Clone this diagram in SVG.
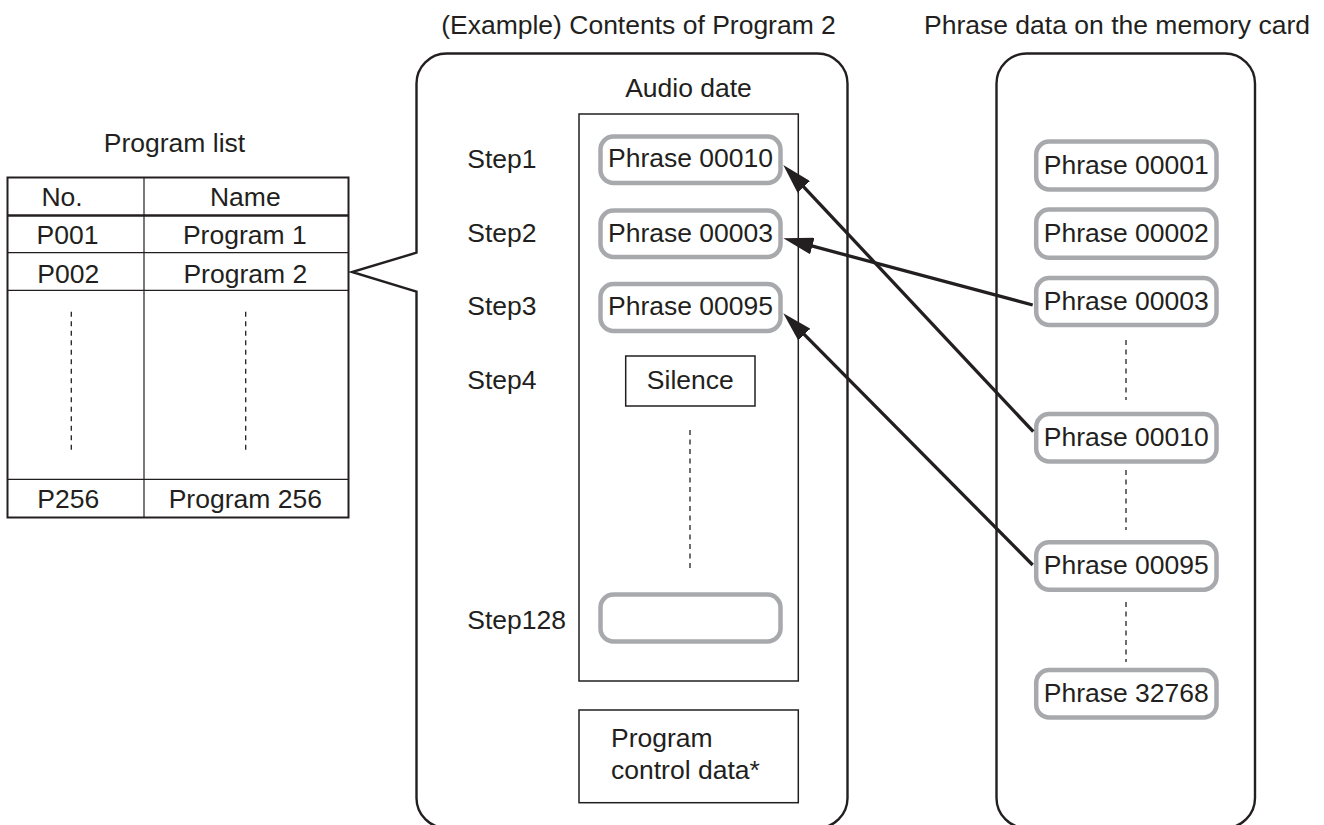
<svg xmlns="http://www.w3.org/2000/svg" width="1324" height="825" viewBox="0 0 1324 825">
<defs>
<style>
text{font-family:"Liberation Sans",Arial,Helvetica,sans-serif;font-size:26.5px;fill:#231f20}
.m{text-anchor:middle}
.panel{fill:none;stroke:#231f20;stroke-width:2.4}
.box{fill:#fff;stroke:#231f20;stroke-width:1.5}
.ph{fill:#fff;stroke:#a7a9ac;stroke-width:4.5}
.dot{stroke:#231f20;stroke-width:1.3;stroke-dasharray:5 4.5;fill:none}
.tl{stroke:#231f20;stroke-width:1.2;fill:none}
.arr{stroke:#231f20;stroke-width:3.3;fill:none;marker-end:url(#ah)}
</style>
<marker id="ah" viewBox="0 0 30 17" markerWidth="30" markerHeight="17" refX="20" refY="8.5" orient="auto" markerUnits="userSpaceOnUse">
<path d="M0,0 L30,8.5 L0,17 Z" fill="#231f20"/>
</marker>
</defs>
<rect width="1324" height="825" fill="#fff"/>

<g id="headers">
<text class="m" x="638.5" y="33.5">(Example) Contents of Program 2</text>
<text class="m" x="1117" y="33.5">Phrase data on the memory card</text>
</g>

<g id="program-list">
<text class="m" x="174.5" y="152">Program list</text>
<rect x="7.5" y="177.5" width="341" height="340" fill="#fff" stroke="#231f20" stroke-width="2"/>
<line class="tl" x1="144" y1="177.5" x2="144" y2="517.5"/>
<line x1="7.5" y1="215.5" x2="348.5" y2="215.5" stroke="#231f20" stroke-width="2.4"/>
<line class="tl" x1="7.5" y1="252.7" x2="348.5" y2="252.7"/>
<line class="tl" x1="7.5" y1="290.3" x2="348.5" y2="290.3"/>
<line class="tl" x1="7.5" y1="479.3" x2="348.5" y2="479.3"/>
<line class="dot" x1="71.3" y1="311.7" x2="71.3" y2="453.3"/>
<line class="dot" x1="245.7" y1="311.7" x2="245.7" y2="453.3"/>
<text class="m" x="62" y="206">No.</text>
<text class="m" x="245.3" y="206">Name</text>
<text class="m" x="67.5" y="244">P001</text>
<text class="m" x="244.8" y="244">Program 1</text>
<text class="m" x="68.3" y="282.7">P002</text>
<text class="m" x="245.3" y="282.7">Program 2</text>
<text class="m" x="68.3" y="507.7">P256</text>
<text class="m" x="245.3" y="507.7">Program 256</text>
</g>

<g id="program2-panel">
<path class="panel" d="M446.5,53.5 H817.5 A30,30 0 0 1 847.5,83.5 V798 A30,30 0 0 1 817.5,828 H446.5 A30,30 0 0 1 416.5,798 V291.7 L352,272 L416.5,252.7 V83.5 A30,30 0 0 1 446.5,53.5 Z" fill="#fff"/>
</g>

<g id="audio-date">
<text class="m" x="688.5" y="97.3">Audio date</text>
<rect class="box" x="579" y="114" width="219.3" height="567"/>
</g>

<g id="step-labels">
<text x="467.3" y="167.5">Step1</text>
<text x="467.3" y="241.7">Step2</text>
<text x="467.3" y="315.3">Step3</text>
<text x="467.3" y="389">Step4</text>
<text x="467.3" y="629">Step128</text>
</g>

<g id="step1"><rect class="ph" x="600.5" y="136.5" width="180" height="46.5" rx="13"/><text class="m" x="690.5" y="167.3">Phrase 00010</text></g>
<g id="step2"><rect class="ph" x="600.5" y="210.5" width="180" height="46.5" rx="13"/><text class="m" x="690.5" y="241.7">Phrase 00003</text></g>
<g id="step3"><rect class="ph" x="600.5" y="284" width="180" height="47" rx="13"/><text class="m" x="690.5" y="315.3">Phrase 00095</text></g>
<g id="step4"><rect class="box" x="625.7" y="356" width="129.3" height="50"/><text class="m" x="690.3" y="389">Silence</text></g>
<g id="step-gap"><line class="dot" x1="690" y1="430" x2="690" y2="572"/></g>
<g id="step128"><rect class="ph" x="600.5" y="594.5" width="180" height="47" rx="13"/></g>

<g id="control-data">
<rect class="box" x="579" y="710" width="219.3" height="92.7"/>
<text x="611" y="747.3">Program</text>
<text x="611" y="779">control data*</text>
</g>

<g id="memory-card-panel">
<rect class="panel" x="996.5" y="53.5" width="258.5" height="774.5" rx="30" fill="#fff"/>
</g>

<g id="card-00001"><rect class="ph" x="1036.2" y="141.5" width="180.3" height="48" rx="13"/><text class="m" x="1126.3" y="174">Phrase 00001</text></g>
<g id="card-00002"><rect class="ph" x="1036.2" y="209.5" width="180.3" height="48.3" rx="13"/><text class="m" x="1126.3" y="241.5">Phrase 00002</text></g>
<g id="card-00003"><rect class="ph" x="1036.2" y="278" width="180.3" height="47" rx="13"/><text class="m" x="1126.3" y="309.5">Phrase 00003</text></g>
<g id="card-00010"><rect class="ph" x="1036.2" y="414" width="180.3" height="47.5" rx="13"/><text class="m" x="1126.3" y="445.7">Phrase 00010</text></g>
<g id="card-00095"><rect class="ph" x="1036.2" y="542.2" width="180.3" height="47.5" rx="13"/><text class="m" x="1126.3" y="574">Phrase 00095</text></g>
<g id="card-32768"><rect class="ph" x="1036.2" y="670" width="180.3" height="47.5" rx="13"/><text class="m" x="1126.3" y="701.7">Phrase 32768</text></g>
<g id="card-gaps">
<line class="dot" x1="1126" y1="340" x2="1126" y2="400"/>
<line class="dot" x1="1126" y1="470" x2="1126" y2="530"/>
<line class="dot" x1="1126" y1="602" x2="1126" y2="662"/>
</g>

<g id="connectors">
<line class="arr" x1="1033.3" y1="431.7" x2="790.1" y2="172.3"/>
<line class="arr" x1="1032.7" y1="305" x2="793" y2="240.9"/>
<line class="arr" x1="1032.7" y1="565" x2="790.3" y2="320.4"/>
</g>
</svg>
